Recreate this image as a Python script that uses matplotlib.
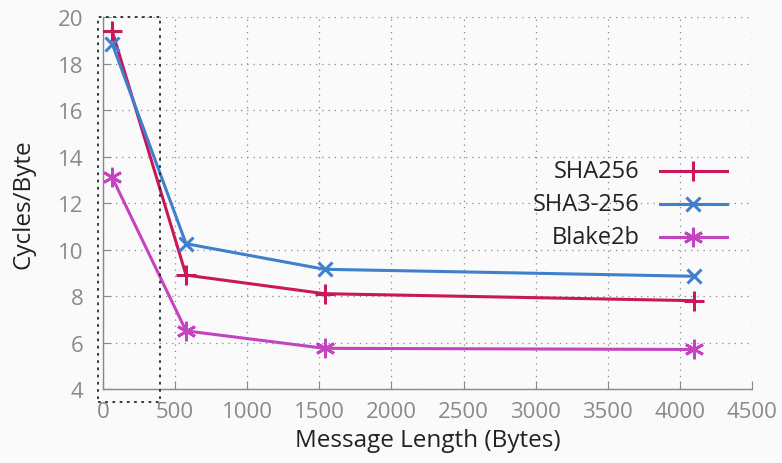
import matplotlib
matplotlib.use("Agg")
import matplotlib.pyplot as plt
from matplotlib.patches import Rectangle

msg_len = [64, 576, 1536, 4096]
sha256 = [19.4, 8.9, 8.1, 7.8]
sha3_256 = [18.85, 10.25, 9.15, 8.85]
blake2b = [13.1, 6.5, 5.75, 5.7]
series_names = ['SHA256', 'SHA3-256', 'Blake2b']
xticks = [0, 500, 1000, 1500, 2000, 2500, 3000, 3500, 4000, 4500]
yticks = [4, 6, 8, 10, 12, 14, 16, 18, 20]

plt.rcParams['font.family'] = ['Open Sans', 'DejaVu Sans']

fig = plt.figure(figsize=(7.82, 4.64), dpi=100, facecolor='#fafafa')
ax = fig.add_axes([0.1317, 0.1595, 0.9616 - 0.1317, 0.961 - 0.1595])
ax.set_facecolor('#fafafa')

styles = [
    dict(color='#c8175a', marker='+', ms=15, mew=2.2),
    dict(color='#3f80cc', marker='x', ms=10, mew=2.2),
    dict(color='#c444c0', marker=(6, 2, 0), ms=14, mew=2.0),
]
for ys, name, st in zip([sha256, sha3_256, blake2b], series_names, styles):
    ax.plot(msg_len, ys, lw=2.2, label=name, zorder=3, **st)

ax.set_xlim(0, 4500)
ax.set_ylim(4, 20)
ax.set_xticks(xticks)
ax.set_yticks(yticks)
ax.grid(True, linestyle=(0, (1, 4)), color='#888888', lw=0.9)
for s in ['top', 'right']:
    ax.spines[s].set_visible(False)
for s in ['left', 'bottom']:
    ax.spines[s].set_color('#888888')
    ax.spines[s].set_linewidth(1.0)
ax.tick_params(direction='in', length=6, color='#888888', labelcolor='#8a8a8a', labelsize=16)
ax.tick_params(axis='y', pad=14)
ax.tick_params(axis='x', pad=9)
ax.set_xlabel('Message Length (Bytes)', fontsize=17.5, color='#222222', labelpad=4)
ax.set_ylabel('Cycles/Byte', fontsize=17.5, color='#222222', labelpad=16)

rect = Rectangle((-0.008, -0.035), 0.096, 1.035, transform=ax.transAxes, fill=False,
                 ls=(0, (1.5, 2.5)), lw=1.3, ec='#1f2f33', clip_on=False, zorder=4)
ax.add_patch(rect)

# legend drawn manually: right-aligned labels, sample line to the right
leg_y = [0.586, 0.497, 0.409]
for name, st, yy in zip(series_names, styles, leg_y):
    ax.text(0.827, yy, name, transform=ax.transAxes, ha='right', va='center',
            fontsize=17, color='#222222')
    ax.plot([0.858, 0.961], [yy, yy], transform=ax.transAxes, lw=2.2,
            color=st['color'], clip_on=False, zorder=4)
    ax.plot([0.9095], [yy], transform=ax.transAxes, ls='none', clip_on=False, zorder=4, **st)

fig.savefig('out.png', dpi=100, facecolor=fig.get_facecolor())
